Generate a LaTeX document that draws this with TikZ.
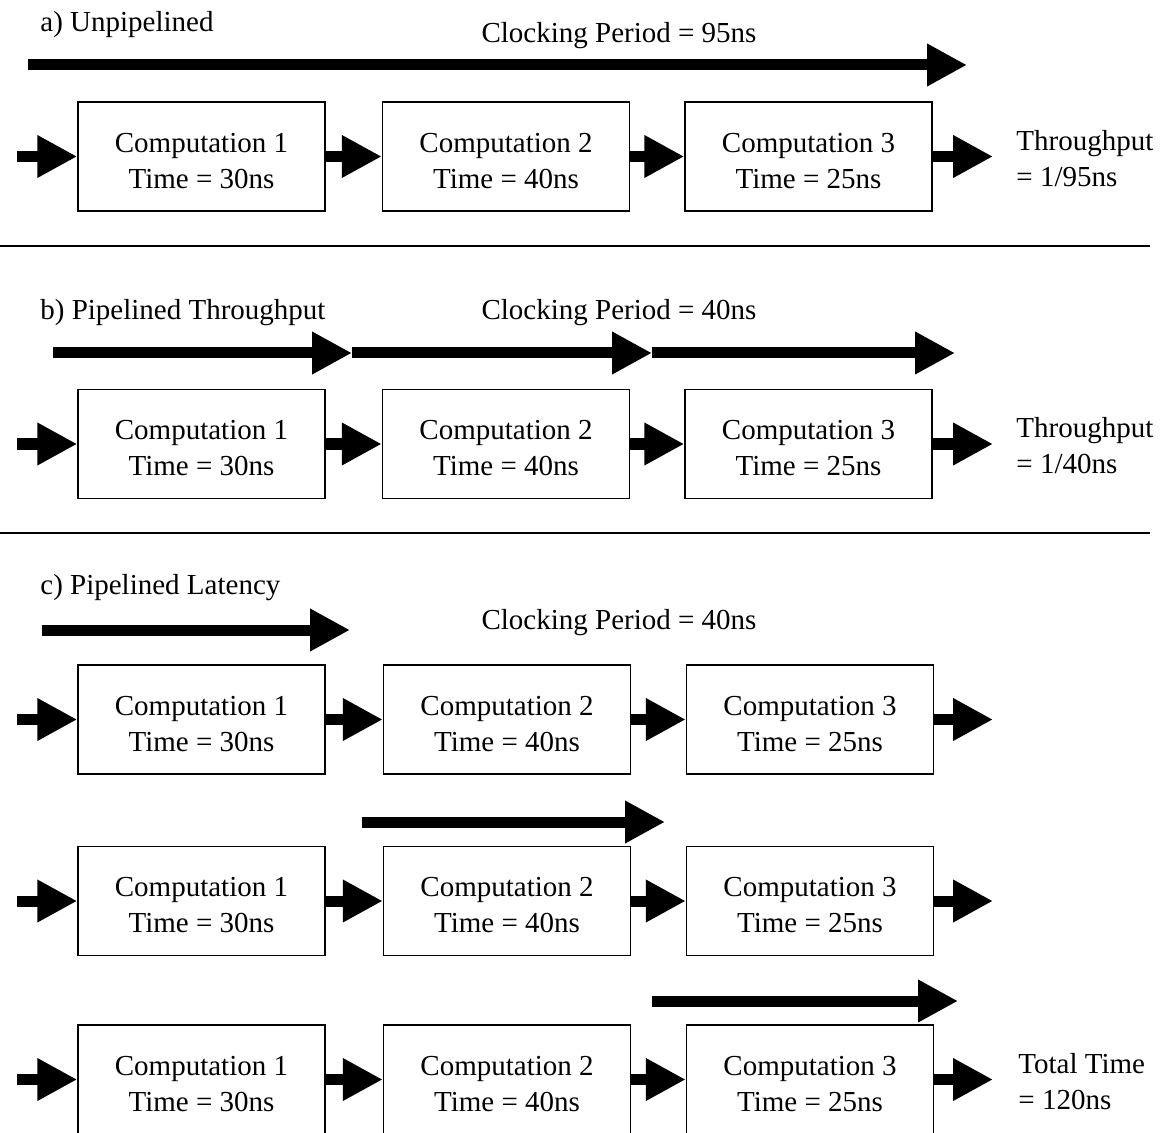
\documentclass[tikz,border=0pt]{standalone}
\usepackage{fontspec}
\setmainfont{Liberation Serif}
\usetikzlibrary{arrows.meta}
\newcommand\tstrut{\rule{0pt}{14pt}}
\begin{document}
\begin{tikzpicture}[x=0.5pt,y=-0.5pt,
  every node/.style={font=\fontsize{14.5}{18}\selectfont, inner sep=0pt},
  comp/.style={draw, line width=0.75pt, minimum width=123.5pt, minimum height=54.5pt, align=center},
  fat/.style={line width=5.5pt, -{Triangle[length=20pt,width=20pt]}},
  rule/.style={line width=1pt},
  ttl/.style={yshift=-1.5pt},
  lbl/.style={anchor=west, align=left}]
\useasboundingbox (0,0) rectangle (1160,1133);
\clip (0,0) rectangle (1160,1133);

% ---------- a) Unpipelined
\node[anchor=west, ttl] (ta) at (40,22) {a) Unpipelined};
\node[ttl] (cpa) at (619,33) {Clocking Period = 95ns};
\coordinate (ca0) at (28,65);
\coordinate (ca1) at (967,65);
\draw[fat] (ca0) -- (ca1);

\node[comp] (a1) at (201.5,156.5) {\tstrut Computation 1\\Time = 30ns};
\node[comp] (a2) at (506,156.5) {\tstrut Computation 2\\Time = 40ns};
\node[comp] (a3) at (808.5,156.5) {\tstrut Computation 3\\Time = 25ns};
\coordinate (ain) at (17,156.5);
\coordinate (aout) at (993,156.5);
\draw[fat] (ain) -- (a1.west);
\draw[fat] (a1.east) -- (a2.west);
\draw[fat] (a2.east) -- (a3.west);
\draw[fat] (a3.east) -- (aout);
\node[lbl] (tpa) at (1016,159) {Throughput\\= 1/95ns};

\coordinate (r1a) at (0,246);
\coordinate (r1b) at (1150,246);
\draw[rule] (r1a) -- (r1b);

% ---------- b) Pipelined Throughput
\node[anchor=west, ttl] (tb) at (40,310) {b) Pipelined Throughput};
\node[ttl] (cpb) at (619,310) {Clocking Period = 40ns};
\coordinate (cb0) at (53,353);
\coordinate (cb1) at (352,353);
\coordinate (cb2) at (652,353);
\coordinate (cb3) at (955,353);
\draw[fat] (cb0) -- (cb1);
\draw[fat] (cb1) -- (cb2);
\draw[fat] (cb2) -- (cb3);

\node[comp] (b1) at (201.5,444) {\tstrut Computation 1\\Time = 30ns};
\node[comp] (b2) at (506,444) {\tstrut Computation 2\\Time = 40ns};
\node[comp] (b3) at (808.5,444) {\tstrut Computation 3\\Time = 25ns};
\coordinate (bin) at (17,444);
\coordinate (bout) at (993,444);
\draw[fat] (bin) -- (b1.west);
\draw[fat] (b1.east) -- (b2.west);
\draw[fat] (b2.east) -- (b3.west);
\draw[fat] (b3.east) -- (bout);
\node[lbl] (tpb) at (1016,446) {Throughput\\= 1/40ns};

\coordinate (r2a) at (0,533);
\coordinate (r2b) at (1150,533);
\draw[rule] (r2a) -- (r2b);

% ---------- c) Pipelined Latency
\node[anchor=west, ttl] (tc) at (40,585) {c) Pipelined Latency};
\node[ttl] (cpc) at (619,620) {Clocking Period = 40ns};
\coordinate (cc10) at (42,630);
\coordinate (cc11) at (350,630);
\draw[fat] (cc10) -- (cc11);

\node[comp] (c11) at (201.5,719.5) {\tstrut Computation 1\\Time = 30ns};
\node[comp] (c12) at (507,719.5) {\tstrut Computation 2\\Time = 40ns};
\node[comp] (c13) at (810,719.5) {\tstrut Computation 3\\Time = 25ns};
\coordinate (c1in) at (17,719.5);
\coordinate (c1out) at (993,719.5);
\draw[fat] (c1in) -- (c11.west);
\draw[fat] (c11.east) -- (c12.west);
\draw[fat] (c12.east) -- (c13.west);
\draw[fat] (c13.east) -- (c1out);

\coordinate (cc20) at (362,822);
\coordinate (cc21) at (665,822);
\draw[fat] (cc20) -- (cc21);

\node[comp] (c21) at (201.5,901) {\tstrut Computation 1\\Time = 30ns};
\node[comp] (c22) at (507,901) {\tstrut Computation 2\\Time = 40ns};
\node[comp] (c23) at (810,901) {\tstrut Computation 3\\Time = 25ns};
\coordinate (c2in) at (17,901);
\coordinate (c2out) at (993,901);
\draw[fat] (c2in) -- (c21.west);
\draw[fat] (c21.east) -- (c22.west);
\draw[fat] (c22.east) -- (c23.west);
\draw[fat] (c23.east) -- (c2out);

\coordinate (cc30) at (652,1001);
\coordinate (cc31) at (958,1001);
\draw[fat] (cc30) -- (cc31);

\node[comp] (c31) at (201.5,1079.5) {\tstrut Computation 1\\Time = 30ns};
\node[comp] (c32) at (507,1079.5) {\tstrut Computation 2\\Time = 40ns};
\node[comp] (c33) at (810,1079.5) {\tstrut Computation 3\\Time = 25ns};
\coordinate (c3in) at (17,1079.5);
\coordinate (c3out) at (993,1079.5);
\draw[fat] (c3in) -- (c31.west);
\draw[fat] (c31.east) -- (c32.west);
\draw[fat] (c32.east) -- (c33.west);
\draw[fat] (c33.east) -- (c3out);
\node[lbl] (tt) at (1018,1082) {Total Time\\= 120ns};
\end{tikzpicture}
\end{document}
